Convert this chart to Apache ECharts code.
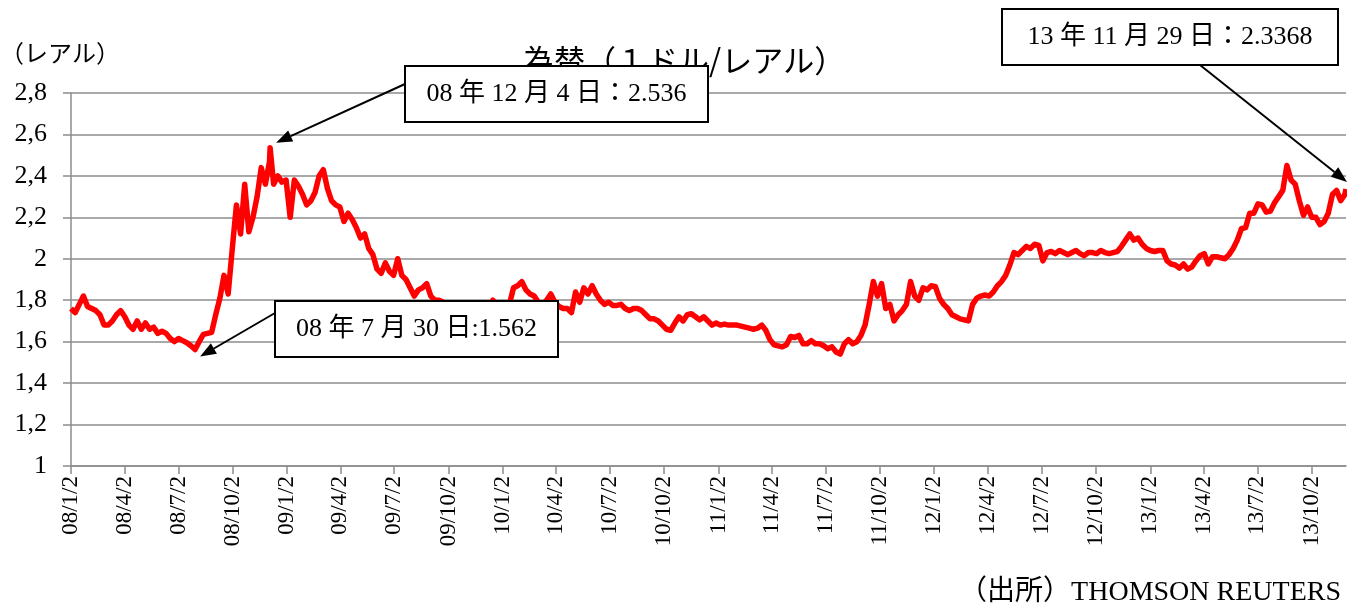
<!DOCTYPE html>
<html>
<head>
<meta charset="utf-8">
<script src="https://cdn.jsdelivr.net/npm/echarts@6/dist/echarts.min.js"></script>
<style>
  html, body { margin: 0; background: #fff; }
  #chart { width: 1347px; height: 608px; }
</style>
</head>
<body>
<div id="chart"></div>
<script>
// weekly closing rate (BRL per USD), one value per week starting 2008-01-02
var startDate = '2008-01-02';
var endDate = '2013-11-29';
var weeklyRate = [
  1.76, 1.74, 1.78, 1.82, 1.77, 1.76, 1.75, 1.73, 1.68, 1.68, 1.70, 1.73, 1.75,
  1.72, 1.68, 1.66, 1.70, 1.66, 1.69, 1.66, 1.67, 1.64, 1.65, 1.64, 1.615, 1.60,
  1.615, 1.605, 1.595, 1.58, 1.562, 1.60, 1.635, 1.64, 1.645, 1.73, 1.81, 1.92, 1.83,
  2.05, 2.26, 2.12, 2.36, 2.13, 2.20, 2.30, 2.44, 2.36, 2.47, 2.36, 2.40, 2.37,
  2.38, 2.20, 2.38, 2.35, 2.31, 2.26, 2.28, 2.32, 2.40, 2.43, 2.34, 2.28, 2.26,
  2.25, 2.18, 2.22, 2.19, 2.15, 2.10, 2.12, 2.05, 2.02, 1.95, 1.93, 1.98, 1.94,
  1.92, 2.00, 1.92, 1.90, 1.86, 1.82, 1.85, 1.86, 1.88, 1.82, 1.80, 1.80, 1.79,
  1.78, 1.78, 1.76, 1.74, 1.75, 1.73, 1.72, 1.74, 1.75, 1.74, 1.77, 1.80, 1.78,
  1.74, 1.75, 1.78, 1.86, 1.87, 1.89, 1.85, 1.83, 1.82, 1.79, 1.78, 1.80, 1.83,
  1.79, 1.77, 1.76, 1.76, 1.74, 1.84, 1.79, 1.86, 1.83, 1.87, 1.83, 1.80, 1.78,
  1.79, 1.775, 1.775, 1.78, 1.76, 1.75, 1.76, 1.76, 1.75, 1.73, 1.71, 1.71, 1.70,
  1.68, 1.66, 1.655, 1.69, 1.72, 1.70, 1.73, 1.735, 1.72, 1.705, 1.72, 1.70, 1.68,
  1.69, 1.68, 1.685, 1.68, 1.68, 1.68, 1.675, 1.67, 1.665, 1.66, 1.665, 1.68, 1.655,
  1.61, 1.585, 1.58, 1.575, 1.585, 1.625, 1.62, 1.63, 1.59, 1.59, 1.605, 1.59, 1.59,
  1.58, 1.566, 1.575, 1.55, 1.54, 1.59, 1.61, 1.59, 1.60, 1.63, 1.68, 1.78, 1.89,
  1.82, 1.88, 1.76, 1.78, 1.70, 1.73, 1.75, 1.78, 1.89, 1.82, 1.80, 1.86, 1.85,
  1.87, 1.865, 1.81, 1.78, 1.76, 1.73, 1.72, 1.71, 1.705, 1.70, 1.78, 1.81, 1.82,
  1.825, 1.82, 1.84, 1.87, 1.89, 1.92, 1.97, 2.03, 2.02, 2.04, 2.06, 2.05, 2.07,
  2.065, 1.99, 2.03, 2.035, 2.025, 2.04, 2.03, 2.02, 2.03, 2.04, 2.025, 2.015, 2.03,
  2.03, 2.025, 2.04, 2.03, 2.025, 2.03, 2.035, 2.06, 2.09, 2.12, 2.09, 2.10, 2.07,
  2.05, 2.04, 2.035, 2.04, 2.04, 1.99, 1.975, 1.97, 1.955, 1.975, 1.95, 1.96, 1.99,
  2.015, 2.025, 1.975, 2.01, 2.01, 2.005, 2.00, 2.02, 2.05, 2.09, 2.145, 2.15, 2.22,
  2.22, 2.265, 2.26, 2.225, 2.23, 2.27, 2.30, 2.33, 2.45, 2.38, 2.36, 2.28, 2.21,
  2.25, 2.20, 2.20, 2.165, 2.18, 2.22, 2.31, 2.33, 2.28, 2.31
];

// annotated days
var noteDates = ['2008-07-30', '2008-12-04', '2013-11-29'];
var noteRates = [1.562, 2.536, 2.3368];
var noteTexts = ['08 年 7 月 30 日:1.562', '08 年 12 月 4 日：2.536', '13 年 11 月 29 日：2.3368'];

var tickLabels = [
  '08/1/2', '08/4/2', '08/7/2', '08/10/2', '09/1/2', '09/4/2', '09/7/2', '09/10/2',
  '10/1/2', '10/4/2', '10/7/2', '10/10/2', '11/1/2', '11/4/2', '11/7/2', '11/10/2',
  '12/1/2', '12/4/2', '12/7/2', '12/10/2', '13/1/2', '13/4/2', '13/7/2', '13/10/2'
];

function toTime(s) {
  var p = s.split('-');
  return new Date(+p[0], +p[1] - 1, +p[2]).getTime();
}

var start = startDate.split('-');
var points = weeklyRate.map(function (v, i) {
  return [new Date(+start[0], +start[1] - 1, +start[2] + 7 * i).getTime(), v];
});
noteDates.forEach(function (d, k) {
  var t = toTime(d);
  var same = points.filter(function (p) { return p[0] === t; });
  if (same.length) same[0][1] = noteRates[k];
  else points.push([t, noteRates[k]]);
});
points.sort(function (a, b) { return a[0] - b[0]; });

var tickTimes = tickLabels.map(function (l) {
  var p = l.split('/');
  return new Date(2000 + +p[0], +p[1] - 1, +p[2]).getTime();
});
var labelOf = {};
tickTimes.forEach(function (t, i) { labelOf[t] = tickLabels[i]; });

var grey = '#8c8c8c';
var serif = '"Liberation Serif", "Noto Sans CJK JP"';
var chart = echarts.init(document.getElementById('chart'));

var option = {
  animation: false,
  backgroundColor: '#fff',
  title: [
    {
      text: '為替（１ドル/レアル）',
      left: 523, top: 45, padding: 0,
      textStyle: { fontFamily: 'Noto Sans CJK JP', fontSize: 31, fontWeight: 'normal', color: '#000' }
    },
    {
      text: '（レアル）',
      left: 0, top: 41, padding: 0,
      textStyle: { fontFamily: 'Noto Sans CJK JP', fontSize: 24, fontWeight: 'normal', color: '#000' }
    },
    {
      text: '（出所）THOMSON REUTERS',
      right: 6, bottom: 1, padding: 0,
      textStyle: { fontFamily: serif, fontSize: 28, fontWeight: 'normal', color: '#000' }
    }
  ],
  grid: { left: 71, right: 1, top: 93, bottom: 142, outerBoundsMode: 'none' },
  xAxis: {
    type: 'value',
    min: toTime(startDate),
    max: toTime(endDate),
    axisLine: { lineStyle: { color: grey, width: 1.5 } },
    axisTick: { show: true, length: 8, customValues: tickTimes, lineStyle: { color: grey, width: 1.5 } },
    axisLabel: {
      customValues: tickTimes,
      rotate: 90,
      margin: 10,
      color: '#000',
      fontFamily: 'Liberation Serif',
      fontSize: 23,
      formatter: function (v) { return labelOf[v] || ''; }
    },
    splitLine: { show: false }
  },
  yAxis: {
    type: 'value',
    min: 1, max: 2.8, interval: 0.2,
    axisLine: { show: true, lineStyle: { color: grey, width: 1.5 } },
    axisTick: { show: true, length: 8, lineStyle: { color: grey, width: 1.5 } },
    splitLine: { show: true, lineStyle: { color: grey, width: 1.5 } },
    axisLabel: {
      margin: 24,
      color: '#000',
      fontFamily: 'Liberation Serif',
      fontSize: 26,
      formatter: function (v) { return String(+v.toFixed(1)).replace('.', ','); }
    }
  },
  series: [{
    type: 'line',
    data: points,
    symbol: 'none',
    lineStyle: { color: '#ff0000', width: 5.5, join: 'round' },
    itemStyle: { color: '#ff0000' },
    z: 3
  }]
};
chart.setOption(option);

// annotation boxes with arrows pointing at the noted days
var boxes = [[275, 301, 283, 56], [405, 66, 303, 56], [1002, 9, 336, 56]];
var tails = [[275, 313], [405, 84], [1200, 65]];
var tipShift = [[5, 7], [6, -5], [1, -7]];
var elements = [];
noteDates.forEach(function (d, k) {
  var p = chart.convertToPixel({ gridIndex: 0 }, [toTime(d), noteRates[k]]);
  var tip = [p[0] + tipShift[k][0], p[1] + tipShift[k][1]];
  var tail = tails[k];
  var dx = tip[0] - tail[0], dy = tip[1] - tail[1];
  var len = Math.sqrt(dx * dx + dy * dy);
  var ux = dx / len, uy = dy / len;
  var hl = 16, hw = 6;
  var bx = tip[0] - ux * hl, by = tip[1] - uy * hl;
  elements.push({
    type: 'line', z: 20,
    shape: { x1: tail[0], y1: tail[1], x2: bx, y2: by },
    style: { stroke: '#000', lineWidth: 2 }
  });
  elements.push({
    type: 'polygon', z: 20,
    shape: { points: [tip, [bx - uy * hw, by + ux * hw], [bx + uy * hw, by - ux * hw]] },
    style: { fill: '#000' }
  });
  var b = boxes[k];
  elements.push({
    type: 'rect', z: 21,
    shape: { x: b[0], y: b[1], width: b[2], height: b[3] },
    style: { fill: '#fff', stroke: '#000', lineWidth: 2 }
  });
  elements.push({
    type: 'text', z: 22,
    style: {
      text: noteTexts[k], x: b[0] + b[2] / 2, y: b[1] + b[3] / 2,
      align: 'center', verticalAlign: 'middle',
      font: '26px ' + serif, fill: '#000'
    }
  });
});
chart.setOption({ graphic: elements });
</script>
</body>
</html>
